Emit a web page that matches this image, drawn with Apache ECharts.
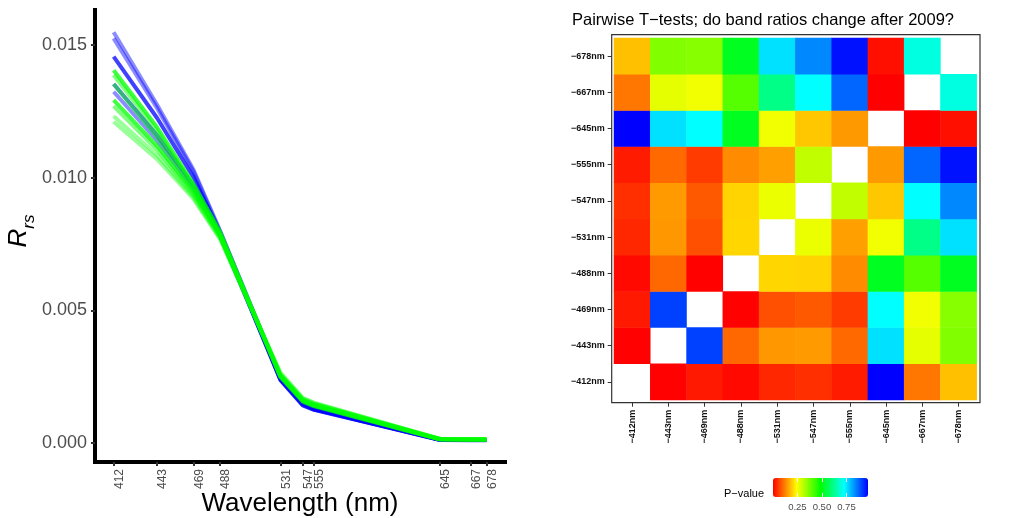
<!DOCTYPE html>
<html>
<head>
<meta charset="utf-8">
<script src="https://cdn.jsdelivr.net/npm/echarts@6.0.0/dist/echarts.min.js"></script>
<style>
  html, body { margin: 0; padding: 0; background: #fff; }
  #main { width: 1023px; height: 518px; }
</style>
</head>
<body>
<div id="main"></div>
<script>
// wavelengths (nm) used for both panels
const wavelengths = [412, 443, 469, 488, 531, 547, 555, 645, 667, 678];

// Rrs spectra, blue group
const spectraBlue = [
  [0.01548, 0.01275, 0.01030, 0.00800, 0.00250, 0.00150, 0.00130, 0.00012, 0.00011, 0.00011],
  [0.01525, 0.01262, 0.01022, 0.00795, 0.00246, 0.00148, 0.00128, 0.00012, 0.00011, 0.00011],
  [0.01456, 0.01225, 0.01002, 0.00792, 0.00238, 0.00142, 0.00125, 0.00011, 0.00010, 0.00010],
  [0.01353, 0.01160, 0.00972, 0.00786, 0.00240, 0.00145, 0.00127, 0.00012, 0.00011, 0.00011],
  [0.01324, 0.01140, 0.00958, 0.00782, 0.00238, 0.00143, 0.00126, 0.00012, 0.00011, 0.00011]
];
// Rrs spectra, green group
const spectraGreen = [
  [0.01405, 0.01190, 0.00976, 0.00795, 0.00250, 0.00158, 0.00140, 0.00014, 0.00013, 0.00013],
  [0.01387, 0.01175, 0.00966, 0.00790, 0.00252, 0.00160, 0.00142, 0.00014, 0.00013, 0.00013],
  [0.01353, 0.01152, 0.00955, 0.00785, 0.00248, 0.00155, 0.00138, 0.00013, 0.00012, 0.00012],
  [0.01292, 0.01120, 0.00945, 0.00780, 0.00255, 0.00162, 0.00145, 0.00014, 0.00013, 0.00013],
  [0.01270, 0.01105, 0.00935, 0.00776, 0.00258, 0.00165, 0.00148, 0.00015, 0.00014, 0.00014],
  [0.01232, 0.01085, 0.00926, 0.00771, 0.00262, 0.00168, 0.00150, 0.00015, 0.00014, 0.00014],
  [0.01211, 0.01070, 0.00920, 0.00768, 0.00265, 0.00170, 0.00152, 0.00015, 0.00014, 0.00014]
];
const blueOpacity = [0.45, 0.45, 0.75, 0.6, 0.45];
const greenOpacity = [0.75, 0.5, 0.5, 0.75, 0.5, 0.4, 0.4];

const rrsTicks = [0, 0.005, 0.010, 0.015];

// pairwise p-values, rows/cols in wavelength order, diagonal empty
const pMatrix = [
  [null, 0.002, 0.025, 0.010, 0.038, 0.046, 0.027, 0.970, 0.114, 0.183],
  [0.002, null, 0.909, 0.099, 0.145, 0.147, 0.101, 0.757, 0.268, 0.363],
  [0.025, 0.909, null, 0.003, 0.076, 0.086, 0.057, 0.728, 0.257, 0.356],
  [0.010, 0.099, 0.003, null, 0.204, 0.202, 0.133, 0.517, 0.404, 0.516],
  [0.038, 0.145, 0.076, 0.204, null, 0.262, 0.152, 0.257, 0.614, 0.757],
  [0.046, 0.147, 0.086, 0.202, 0.262, null, 0.302, 0.190, 0.728, 0.841],
  [0.027, 0.101, 0.057, 0.133, 0.152, 0.302, null, 0.146, 0.873, 0.954],
  [0.970, 0.757, 0.728, 0.517, 0.257, 0.190, 0.146, null, 0.001, 0.015],
  [0.114, 0.268, 0.257, 0.404, 0.614, 0.728, 0.873, 0.001, null, 0.698],
  [0.183, 0.363, 0.356, 0.516, 0.757, 0.841, 0.954, 0.015, 0.698, null]
];
const pRange = [0.001, 0.970];
const pTicks = [0.25, 0.5, 0.75];

const bandLabels = wavelengths.map(w => '\u2212' + w + 'nm');

const chart = echarts.init(document.getElementById('main'), null, { renderer: 'canvas' });

const lineSeries = [];
spectraBlue.forEach((s, i) => {
  lineSeries.push({
    type: 'line', xAxisIndex: 0, yAxisIndex: 0, symbol: 'none', silent: true,
    data: s.map((v, k) => [wavelengths[k], v]),
    lineStyle: { color: '#0000ff', width: 4, opacity: blueOpacity[i], join: 'round' }
  });
});
spectraGreen.forEach((s, i) => {
  lineSeries.push({
    type: 'line', xAxisIndex: 0, yAxisIndex: 0, symbol: 'none', silent: true,
    data: s.map((v, k) => [wavelengths[k], v]),
    lineStyle: { color: '#00ff00', width: 4, opacity: greenOpacity[i], join: 'round' }
  });
});

const heatData = [];
pMatrix.forEach((row, j) => {
  row.forEach((v, i) => {
    if (v !== null) heatData.push([i, j, v]);
  });
});

const option = {
  backgroundColor: '#fff',
  animation: false,
  title: {
    text: 'Pairwise T\u2212tests; do band ratios change after 2009?',
    left: 567, top: 7,
    textStyle: { fontSize: 16.5, fontWeight: 'normal', color: '#000', fontFamily: 'Liberation Sans' }
  },
  grid: [
    { left: 95, top: 10, width: 410, height: 452, outerBoundsMode: 'none', containLabel: false },
    { left: 614, top: 38, width: 362.7, height: 362, outerBoundsMode: 'none', containLabel: false },
    { left: 773, top: 478, width: 95, height: 19, outerBoundsMode: 'none', containLabel: false }
  ],
  xAxis: [
    {
      gridIndex: 0, type: 'value', min: 398.7, max: 691.3,
      axisLine: { onZero: false, lineStyle: { color: '#000', width: 4, cap: 'square' } },
      axisTick: { customValues: wavelengths, length: 4, lineStyle: { color: '#333', width: 2 } },
      axisLabel: { customValues: wavelengths, rotate: 90, fontSize: 12, color: '#4d4d4d',
        margin: 7, fontFamily: 'Liberation Sans', verticalAlign: 'top' },
      splitLine: { show: false },
      name: 'Wavelength (nm)', nameLocation: 'middle', nameGap: 29, nameMoveOverlap: false,
      nameTextStyle: { fontSize: 26, color: '#000', fontFamily: 'Liberation Sans' }
    },
    {
      gridIndex: 1, type: 'category', data: bandLabels, offset: 2.7,
      axisLine: { show: false },
      axisTick: { show: true, alignWithLabel: true, length: 4, lineStyle: { color: '#333', width: 1 } },
      axisLabel: { interval: 0, rotate: 90, fontSize: 9, fontWeight: 'bold', color: '#111',
        margin: 7, fontFamily: 'Liberation Sans' },
      splitLine: { show: false }
    },
    {
      gridIndex: 2, type: 'value', min: pRange[0], max: pRange[1], z: 10,
      axisLine: { show: false },
      axisTick: { customValues: pTicks, inside: true, length: 4, lineStyle: { color: '#fff', width: 1 } },
      axisLabel: { customValues: pTicks, formatter: v => v.toFixed(2), fontSize: 9.5,
        color: '#4d4d4d', margin: 5, fontFamily: 'Liberation Sans' },
      splitLine: { show: false }
    },
    {
      gridIndex: 2, type: 'value', position: 'top', min: pRange[0], max: pRange[1], z: 10,
      axisLine: { show: false },
      axisTick: { customValues: pTicks, inside: true, length: 4, lineStyle: { color: '#fff', width: 1 } },
      axisLabel: { show: false },
      splitLine: { show: false }
    }
  ],
  yAxis: [
    {
      gridIndex: 0, type: 'value', min: -0.000716, max: 0.01632,
      axisLine: { show: true, onZero: false, lineStyle: { color: '#000', width: 4, cap: 'square' } },
      axisTick: { show: true, customValues: rrsTicks, length: 4, lineStyle: { color: '#333', width: 2 } },
      axisLabel: { customValues: rrsTicks, formatter: v => v.toFixed(3), fontSize: 18,
        color: '#4d4d4d', margin: 8, fontFamily: 'Liberation Sans' },
      splitLine: { show: false },
      name: '{r|R}{s|rs}', nameLocation: 'middle', nameGap: 52, nameRotate: 90,
      nameTextStyle: {
        padding: [0, 0, 0, 10],
        rich: {
          r: { fontSize: 26, fontStyle: 'italic', color: '#000', fontFamily: 'Liberation Sans', lineHeight: 38, verticalAlign: 'middle' },
          s: { fontSize: 17, fontStyle: 'italic', color: '#000', fontFamily: 'Liberation Sans', lineHeight: 38, verticalAlign: 'bottom' }
        }
      }
    },
    {
      gridIndex: 1, type: 'category', data: bandLabels, offset: 2.3,
      axisLine: { show: false },
      axisTick: { show: true, alignWithLabel: true, length: 4, lineStyle: { color: '#333', width: 1 } },
      axisLabel: { interval: 0, fontSize: 9, fontWeight: 'bold', color: '#111',
        margin: 7, fontFamily: 'Liberation Sans' },
      splitLine: { show: false }
    },
    { gridIndex: 2, type: 'value', show: false }
  ],
  visualMap: {
    type: 'continuous', seriesIndex: lineSeries.length,
    min: pRange[0], max: pRange[1], calculable: false,
    orient: 'horizontal', left: 773, top: 478, itemWidth: 19, itemHeight: 95,
    padding: 0, text: null, hoverLink: false,
    inRange: { color: ['#ff0000', '#ffff00', '#00ff00', '#00ffff', '#0000ff'] }
  },
  graphic: [
    {
      type: 'rect', z: 100, silent: true,
      shape: { x: 611.7, y: 34.7, width: 368.3, height: 368 },
      style: { fill: null, stroke: '#333', lineWidth: 1.2 }
    },
    {
      type: 'text', left: 724, top: 488, silent: true,
      style: { text: 'P\u2212value', fontSize: 11, fill: '#000', fontFamily: 'Liberation Sans' }
    }
  ],
  series: lineSeries.concat([
    {
      type: 'heatmap', xAxisIndex: 1, yAxisIndex: 1, data: heatData, silent: true,
      itemStyle: { borderWidth: 0 }
    }
  ])
};

chart.setOption(option);
</script>
</body>
</html>
